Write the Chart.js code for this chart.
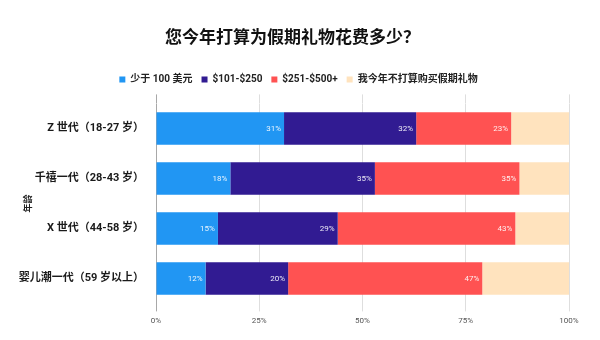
<!DOCTYPE html>
<html>
<head>
<meta charset="utf-8">
<script src="https://cdn.jsdelivr.net/npm/chart.js@4/dist/chart.umd.min.js"></script>
<style>
  html, body { margin: 0; padding: 0; background: #fff; }
  #wrap { width: 600px; height: 340px; position: relative; }
</style>
</head>
<body>
<div id="wrap"><canvas id="giftChart"></canvas></div>
<script>
const generations = [
  "Z 世代（18-27 岁）",
  "千禧一代（28-43 岁）",
  "X 世代（44-58 岁）",
  "婴儿潮一代（59 岁以上）",
];
const under100 = [31, 18, 15, 12];
const from101to250 = [32, 35, 29, 20];
const from251to500 = [23, 35, 43, 47];
const noGifts = [14, 12, 13, 21];
const seriesNames = ["少于 100 美元", "$101-$250", "$251-$500+", "我今年不打算购买假期礼物"];
const seriesColors = ["#2196F3", "#311B92", "#FF5252", "#FFE3BE"];
const xTicks = [0, 25, 50, 75, 100];

const FONT = "Roboto, 'Noto Sans CJK SC', sans-serif";

// white % labels at the end of each segment (last series has none)
const segmentLabels = {
  id: "segmentLabels",
  afterDatasetsDraw(chart) {
    const ctx = chart.ctx;
    ctx.save();
    ctx.font = "8px " + FONT;
    ctx.fillStyle = "rgba(255,255,255,0.9)";
    ctx.textAlign = "right";
    ctx.textBaseline = "middle";
    chart.data.datasets.forEach((ds, i) => {
      if (i === 3) return;
      chart.getDatasetMeta(i).data.forEach((bar, j) => {
        ctx.fillText(ds.data[j] + "%", bar.x - 3, bar.y + 0.5);
      });
    });
    ctx.restore();
  },
};

// title and legend are centred on the page, not on the padded box
const shiftHeader = {
  id: "shiftHeader",
  afterLayout(chart) {
    if (chart.titleBlock) {
      chart.titleBlock.left += 8;
      chart.titleBlock.right += 8;
    }
    if (chart.legend) {
      chart.legend.left += 14;
      chart.legend.right += 14;
    }
  },
};

const gridColor = (c) => (c.tick && c.tick.value === 0 ? "#a8a8a8" : "#dedede");

new Chart(document.getElementById("giftChart"), {
  type: "bar",
  data: {
    labels: generations,
    datasets: [under100, from101to250, from251to500, noGifts].map((d, i) => ({
      label: seriesNames[i],
      data: d,
      backgroundColor: seriesColors[i],
      borderWidth: 0,
      categoryPercentage: 1,
      barPercentage: 0.65,
    })),
  },
  options: {
    indexAxis: "y",
    responsive: true,
    maintainAspectRatio: false,
    animation: false,
    layout: { padding: { left: 0, right: 31, top: 0, bottom: 9 } },
    plugins: {
      title: {
        display: true,
        text: "您今年打算为假期礼物花费多少？",
        color: "#111",
        font: { family: FONT, size: 17, weight: "bold" },
        padding: { top: 29, bottom: 16 },
      },
      legend: {
        position: "top",
        labels: {
          boxWidth: 6,
          boxHeight: 6,
          padding: 9,
          color: "#222",
          font: { family: FONT, size: 10, weight: "bold" },
        },
      },
      tooltip: { enabled: false },
    },
    scales: {
      x: {
        stacked: true,
        min: 0,
        max: 100,
        afterBuildTicks: (s) => { s.ticks = xTicks.map((v) => ({ value: v })); },
        ticks: {
          callback: (v) => v + "%",
          color: "#555",
          padding: 5,
          font: { family: FONT, size: 8 },
        },
        grid: { color: gridColor, tickColor: gridColor, tickLength: 8, lineWidth: 1 },
        border: { display: false },
      },
      x2: {
        position: "top",
        min: 0,
        max: 100,
        afterBuildTicks: (s) => { s.ticks = xTicks.map((v) => ({ value: v })); },
        ticks: { display: false },
        grid: { drawOnChartArea: false, color: gridColor, tickColor: gridColor, tickLength: 9 },
        border: { display: false },
      },
      y: {
        stacked: true,
        afterFit: (s) => { s.width = 156; },
        ticks: {
          color: "#1a1a1a",
          padding: 4,
          font: { family: FONT, size: 11, weight: "bold" },
        },
        grid: { display: false },
        border: { display: false },
        title: {
          display: true,
          text: "年龄",
          color: "#222",
          padding: { top: 23 },
          font: { family: FONT, size: 9, weight: "bold" },
        },
      },
    },
  },
  plugins: [segmentLabels, shiftHeader],
});
</script>
</body>
</html>
